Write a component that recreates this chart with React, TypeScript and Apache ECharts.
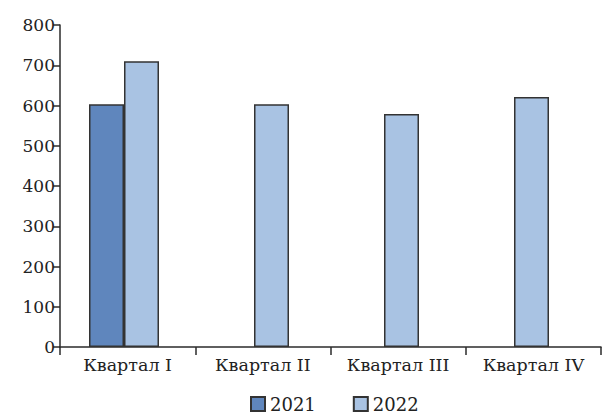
import React, { useEffect, useRef } from "react";
import * as echarts from "echarts";

const categories = ["Квартал I", "Квартал II", "Квартал III", "Квартал IV"];
const seriesNames = ["2021", "2022"];
const values2021: (number | null)[] = [603, null, null, null];
const values2022: number[] = [710, 603, 579, 621];
const yMin = 0;
const yMax = 800;
const yInterval = 100;

const FONT = "DejaVu Serif";
const AXIS_COLOR = "#2b2b2b";

export default function App() {
  const ref = useRef<HTMLDivElement>(null);
  useEffect(() => {
    if (!ref.current) return;
    const chart = echarts.init(ref.current, undefined, { renderer: "svg" });
    chart.setOption({
      animation: false,
      backgroundColor: "#ffffff",
      legend: {
        data: seriesNames,
        icon: "rect",
        left: 250,
        top: 395,
        padding: 0,
        itemWidth: 14,
        itemHeight: 14,
        itemGap: 37,
        textStyle: { fontFamily: FONT, fontSize: 18, color: "#222" },
      },
      grid: [
        { left: 60, right: 2, top: 25, bottom: 66 },
        { left: 59, width: 520, top: 25, bottom: 66 },
      ],
      xAxis: [
        {
          type: "category",
          data: categories,
          gridIndex: 0,
          axisLine: { lineStyle: { color: AXIS_COLOR, width: 1.5 } },
          axisTick: { show: true, interval: 0, length: 8, inside: false, alignWithLabel: false, lineStyle: { color: AXIS_COLOR, width: 1.5 } },
          axisLabel: { interval: 0, fontFamily: FONT, fontSize: 17.5, color: "#222", margin: 9 },
          splitLine: { show: false },
        },
        {
          type: "category",
          data: categories,
          gridIndex: 1,
          show: false,
        },
      ],
      yAxis: [
        {
          type: "value",
          gridIndex: 0,
          min: yMin,
          max: yMax,
          interval: yInterval,
          axisLine: { show: true, lineStyle: { color: AXIS_COLOR, width: 1.5 } },
          axisTick: { show: true, length: 7, lineStyle: { color: AXIS_COLOR, width: 1.5 } },
          axisLabel: { fontFamily: FONT, fontSize: 17, color: "#222", margin: 5 },
          splitLine: { show: false },
        },
        {
          type: "value",
          gridIndex: 1,
          min: yMin,
          max: yMax,
          interval: yInterval,
          show: false,
        },
      ],
      series: [
        {
          name: seriesNames[0],
          type: "bar",
          xAxisIndex: 1,
          yAxisIndex: 1,
          data: values2021,
          barWidth: 35,
          barGap: "0%",
          itemStyle: { color: "#5f86bd", borderColor: "#333", borderWidth: 1.5 },
        },
        {
          name: seriesNames[1],
          type: "bar",
          xAxisIndex: 1,
          yAxisIndex: 1,
          data: values2022,
          barWidth: 35,
          barGap: "0%",
          itemStyle: { color: "#a9c3e3", borderColor: "#333", borderWidth: 1.5 },
        },
      ],
    });
    return () => chart.dispose();
  }, []);
  return (
    <div
      ref={ref}
      style={{ position: "absolute", left: 0, top: 0, width: 603, height: 413 }}
    />
  );
}
